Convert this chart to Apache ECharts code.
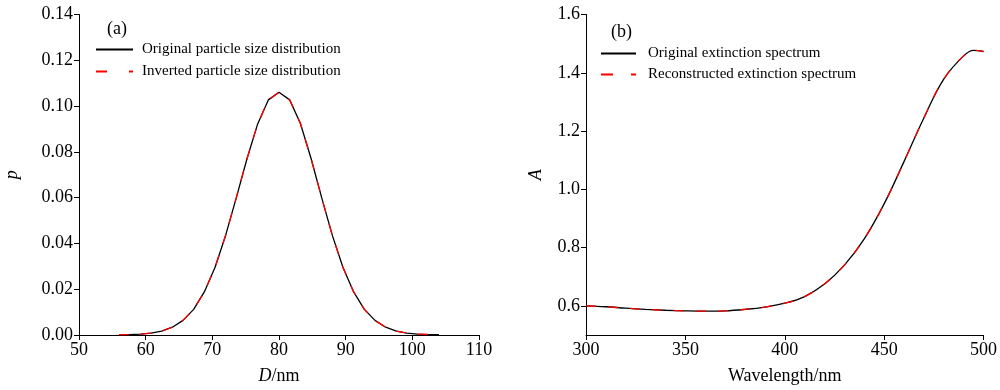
<!DOCTYPE html>
<html><head><meta charset="utf-8">
<script src="https://cdn.jsdelivr.net/npm/echarts@6/dist/echarts.min.js"></script>
<style>html,body{margin:0;padding:0;background:#fff}#c{width:1000px;height:390px}</style>
</head><body><div id="c"></div>
<script>
// (a) particle size distribution
const diameters = [56,57.6,59.2,60.8,62.4,64,65.6,67.2,68.8,70.4,72,73.6,75.2,76.8,78.4,80,81.6,83.2,84.8,86.4,88,89.6,91.2,92.8,94.4,96,97.6,99.2,100.8,102.4,104];
const psdOriginal = [0.0001,0.0002,0.0004,0.0008,0.0017,0.0034,0.0064,0.0112,0.0188,0.0295,0.0436,0.0600,0.0770,0.0922,0.1027,0.1060,0.1027,0.0925,0.0772,0.0600,0.0435,0.0295,0.0188,0.0112,0.0064,0.0034,0.0017,0.0008,0.0004,0.0002,0.0001];
const psdInverted = [0.0001,0.0002,0.0004,0.0008,0.0017,0.0034,0.0064,0.0112,0.0188,0.0295,0.0436,0.0600,0.0770,0.0922,0.1027,0.1060,0.1027,0.0925,0.0772,0.0600,0.0435,0.0295,0.0188,0.0112,0.0064,0.0034,0.0017,0.0008,0.0004,0.0002,0.0001];
// (b) extinction spectrum
const wavelengths = [300,310,320,330,340,350,360,370,380,390,400,410,420,430,440,450,460,470,480,490,495,500];
const absOriginal = [0.600,0.597,0.592,0.588,0.585,0.583,0.582,0.583,0.588,0.596,0.609,0.632,0.675,0.740,0.830,0.950,1.095,1.245,1.378,1.458,1.477,1.473];
const absReconstructed = [0.600,0.597,0.592,0.588,0.585,0.583,0.582,0.583,0.588,0.596,0.609,0.632,0.675,0.740,0.830,0.950,1.095,1.245,1.378,1.458,1.477,1.473];
const aTickValues = [0.6,0.8,1.0,1.2,1.4,1.6];
const legendA = ['Original particle size distribution','Inverted particle size distribution'];
const legendB = ['Original extinction spectrum','Reconstructed extinction spectrum'];

const FONT = 'Liberation Serif';
const zip = (xs, ys) => xs.map((x, i) => [x, ys[i]]);
const axisCommon = {
  axisLine: {show: true, lineStyle: {color: '#000', width: 1}},
  axisTick: {show: true, inside: false, length: 5, lineStyle: {color: '#000'}},
  axisLabel: {color: '#000', fontFamily: FONT, fontSize: 18, margin: 6},
  splitLine: {show: false},
  nameTextStyle: {color: '#000', fontFamily: FONT, fontSize: 18}
};
const chart = echarts.init(document.getElementById('c'), null, {renderer: 'canvas'});
chart.setOption({
  animation: false,
  backgroundColor: '#fff',
  grid: [
    {left: 79, right: 521, top: 14.5, bottom: 52.7, containLabel: false},
    {left: 586, right: 14, top: 14.5, bottom: 52.7, containLabel: false}
  ],
  xAxis: [
    Object.assign({}, axisCommon, {type: 'value', gridIndex: 0, min: 50, max: 110, interval: 10,
      name: '{i|D}/nm', nameLocation: 'middle', nameGap: 32,
      nameTextStyle: {color: '#000', fontFamily: FONT, fontSize: 18, rich: {i: {fontStyle: 'italic', fontFamily: FONT, fontSize: 18, color: '#000'}}}}),
    Object.assign({}, axisCommon, {type: 'value', gridIndex: 1, min: 300, max: 500, interval: 50,
      name: 'Wavelength/nm', nameLocation: 'middle', nameGap: 32})
  ],
  yAxis: [
    Object.assign({}, axisCommon, {type: 'value', gridIndex: 0, min: 0, max: 0.14, interval: 0.02,
      axisLabel: Object.assign({}, axisCommon.axisLabel, {formatter: v => v.toFixed(2)}),
      name: 'p', nameLocation: 'middle', nameGap: 58,
      nameTextStyle: {color: '#000', fontFamily: FONT, fontSize: 18, fontStyle: 'italic'}}),
    Object.assign({}, axisCommon, {type: 'value', gridIndex: 1, min: 0.5, max: 1.6,
      axisTick: Object.assign({}, axisCommon.axisTick, {customValues: aTickValues}),
      axisLabel: Object.assign({}, axisCommon.axisLabel, {customValues: aTickValues, formatter: v => v.toFixed(1)}),
      name: 'A', nameLocation: 'middle', nameGap: 41,
      nameTextStyle: {color: '#000', fontFamily: FONT, fontSize: 18, fontStyle: 'italic'}})
  ],
  legend: [
    {orient: 'vertical', left: 95, top: 42, padding: 0, itemWidth: 37, itemHeight: 14, itemGap: 7,
      itemStyle: {opacity: 0},
      data: [{name: legendA[0]}, {name: legendA[1], lineStyle: {type: [11, 22]}}],
      textStyle: {color: '#000', fontFamily: FONT, fontSize: 15, padding: [0, 0, 0, 4]}},
    {orient: 'vertical', left: 600, top: 46, padding: 0, itemWidth: 35, itemHeight: 14, itemGap: 6,
      itemStyle: {opacity: 0},
      data: [{name: legendB[0]}, {name: legendB[1], lineStyle: {type: [12, 18]}}],
      textStyle: {color: '#000', fontFamily: FONT, fontSize: 15, padding: [0, 0, 0, 7]}}
  ],
  graphic: [
    {type: 'text', left: 107, top: 20, style: {text: '(a)', font: '18px "Liberation Serif"', fill: '#000'}},
    {type: 'text', left: 611, top: 23, style: {text: '(b)', font: '18px "Liberation Serif"', fill: '#000'}}
  ],
  series: [
    {name: legendA[0], type: 'line', xAxisIndex: 0, yAxisIndex: 0, data: zip(diameters, psdOriginal),
      symbol: 'none', lineStyle: {color: '#000', width: 1.3}, itemStyle: {color: '#000'}},
    {name: legendA[1], type: 'line', xAxisIndex: 0, yAxisIndex: 0, data: zip(diameters, psdInverted),
      symbol: 'none', lineStyle: {color: '#ff0000', width: 1.3, type: [10, 12]}, itemStyle: {color: '#ff0000'}},
    {name: legendB[0], type: 'line', xAxisIndex: 1, yAxisIndex: 1, data: zip(wavelengths, absOriginal),
      symbol: 'none', smooth: 0.4, lineStyle: {color: '#000', width: 1.3}, itemStyle: {color: '#000'}},
    {name: legendB[1], type: 'line', xAxisIndex: 1, yAxisIndex: 1, data: zip(wavelengths, absReconstructed),
      symbol: 'none', smooth: 0.4, lineStyle: {color: '#ff0000', width: 1.3, type: [10, 12]}, itemStyle: {color: '#ff0000'}}
  ]
});
</script></body></html>
